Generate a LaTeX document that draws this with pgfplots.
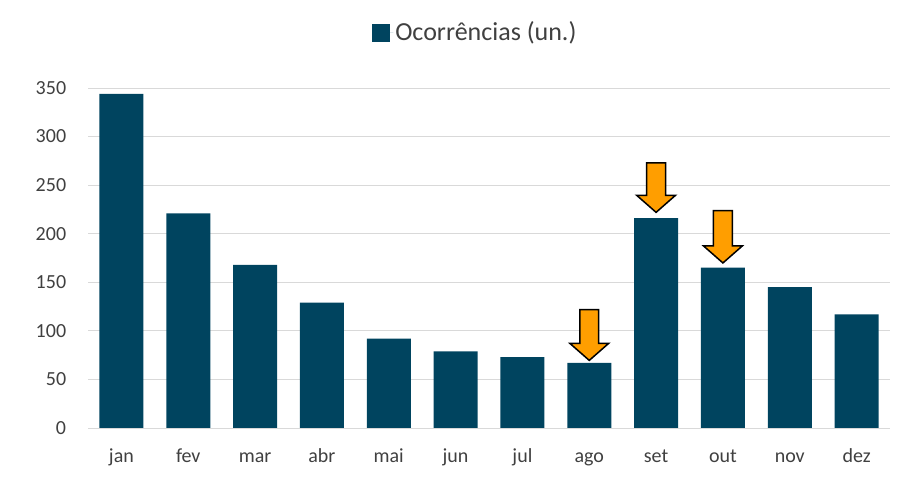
\documentclass[border=0pt]{standalone}
\usepackage{fontspec}
\setmainfont{Carlito}
\usepackage{pgfplots}
\pgfplotsset{compat=1.18}
\definecolor{barblue}{HTML}{00445F}
\definecolor{arroworange}{HTML}{FF9E00}
\definecolor{gridgray}{HTML}{D9D9D9}
\definecolor{txtgray}{HTML}{404040}
\newcommand{\downarr}[3]{%
  \draw[black, line width=1.5pt, fill=arroworange, line join=miter]
    (axis cs:#1-0.142,#3) -- (axis cs:#1+0.142,#3) -- (axis cs:#1+0.142,#2+17.5)
    -- (axis cs:#1+0.29,#2+17.5) -- (axis cs:#1,#2) -- (axis cs:#1-0.29,#2+17.5)
    -- (axis cs:#1-0.142,#2+17.5) -- cycle;}
\begin{document}
\fontsize{20pt}{24pt}\selectfont
\begin{tikzpicture}
\useasboundingbox (0,0) rectangle (918pt,484pt);
\begin{axis}[
  at={(88pt,56pt)}, anchor=south west,
  scale only axis, width=802pt, height=340pt,
  xmin=-0.5, xmax=11.5, ymin=0, ymax=350,
  ytick={0,50,...,350},
  xtick={0,...,11},
  xticklabels={jan,fev,mar,abr,mai,jun,jul,ago,set,out,nov,dez},
  axis line style={draw=none},
  major tick length=0pt,
  ymajorgrids, grid style={gridgray, line width=0.8pt},
  tick label style={font=\fontsize{20pt}{24pt}\selectfont, text=txtgray},
  /pgf/number format/assume math mode=true,
  yticklabel style={xshift=-15pt},
  xticklabel style={anchor=base, yshift=-35pt},
  legend style={at={(0.483,1.163)}, anchor=center, draw=none, fill=none,
    font=\fontsize{26pt}{31pt}\selectfont, text=txtgray,
    legend cell align=left, inner sep=0pt,
    /tikz/every even column/.append style={column sep=0pt}},
  legend image code/.code={\fill[barblue] (0pt,-9pt) rectangle (18pt,9pt);
    \path (0pt,0pt) -- (21pt,0pt);},
  clip=false,
]
\addplot[ybar, bar width=44pt, fill=barblue, draw=none] coordinates {
  (0,344) (1,221) (2,168) (3,129) (4,92) (5,79)
  (6,73) (7,67) (8,216) (9,165) (10,145) (11,117)
};
\addlegendentry{Ocorrências (un.)}
\downarr{7}{69.6}{121.8}
\downarr{8}{222}{272.8}
\downarr{9}{169.9}{223.7}
\end{axis}
\end{tikzpicture}
\end{document}
